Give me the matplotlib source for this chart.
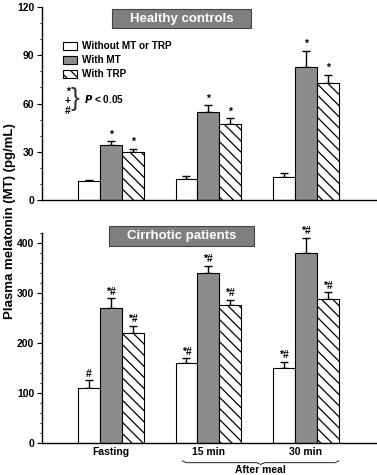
import matplotlib
matplotlib.use("Agg")
import matplotlib.pyplot as plt
import numpy as np
from matplotlib.patches import Patch, Rectangle
from matplotlib.ticker import MultipleLocator

plt.rcParams["font.family"] = ["Liberation Sans", "DejaVu Sans"]
plt.rcParams["font.weight"] = "bold"
plt.rcParams["hatch.linewidth"] = 0.9

groups = ["Fasting", "15 min", "30 min"]
series = ["Without MT or TRP", "With MT", "With TRP"]

# healthy controls (pg/mL), one list per series
healthy_none = [12, 13, 14]
healthy_none_err = [0.5, 2, 3]
healthy_mt = [34, 55, 83]
healthy_mt_err = [2.5, 4, 10]
healthy_trp = [30, 47, 73]
healthy_trp_err = [2, 4, 5]
healthy_marks = [["", "", ""], ["*", "*", "*"], ["*", "*", "*"]]

# cirrhotic patients (pg/mL)
cirr_none = [110, 160, 151]
cirr_none_err = [15, 10, 12]
cirr_mt = [270, 340, 381]
cirr_mt_err = [20, 15, 30]
cirr_trp = [220, 277, 289]
cirr_trp_err = [15, 10, 13]
cirr_marks = [["#", "*#", "*#"], ["*#", "*#", "*#"], ["*#", "*#", "*#"]]

styles = [
    dict(color="white", hatch=None),
    dict(color="#8c8c8c", hatch=None),
    dict(color="white", hatch="\\\\\\"),
]
width = 0.224


def draw_panel(ax, vals, errs, marks, ylim, major, minor, title, box):
    x = np.arange(len(groups))
    for i in range(3):
        pos = x + (i - 1) * width
        ax.bar(pos, vals[i], width, color=styles[i]["color"],
               hatch=styles[i]["hatch"], edgecolor="black", linewidth=0.8,
               zorder=2)
        ax.errorbar(pos, vals[i], yerr=[[0] * 3, errs[i]], fmt="none",
                    ecolor="black", elinewidth=1, capsize=3, capthick=1,
                    zorder=1)
        for j in range(3):
            if marks[i][j]:
                ax.annotate(marks[i][j], (pos[j], vals[i][j] + errs[i][j]),
                            xytext=(0, 1), textcoords="offset points",
                            ha="center", va="bottom", fontsize=7.5)
    ax.set_xlim(-0.704, 2.714)
    ax.set_ylim(*ylim)
    ax.yaxis.set_major_locator(MultipleLocator(major))
    ax.yaxis.set_minor_locator(MultipleLocator(minor))
    ax.tick_params(axis="y", which="major", length=3.5, width=0.8, labelsize=7.5, pad=2)
    ax.tick_params(axis="y", which="minor", length=1.5, width=0.6)
    ax.tick_params(axis="x", length=0)
    for s in ["top", "right"]:
        ax.spines[s].set_visible(False)
    for s in ["left", "bottom"]:
        ax.spines[s].set_linewidth(1.0)
    x0, x1, y0, y1 = box
    ax.add_patch(Rectangle((x0, y0), x1 - x0, y1 - y0, transform=ax.transAxes,
                           facecolor="#7f7f7f", edgecolor="#444444",
                           linewidth=0.8, clip_on=False, zorder=3))
    ax.text((x0 + x1) / 2, (y0 + y1) / 2, title, transform=ax.transAxes,
            ha="center", va="center", color="white", fontsize=9.5, zorder=4)


fig = plt.figure(figsize=(3.77, 4.75), dpi=100)
ax1 = fig.add_axes([0.1114, 0.579, 0.885, 0.406])
ax2 = fig.add_axes([0.1114, 0.0674, 0.885, 0.442])

draw_panel(ax1, [healthy_none, healthy_mt, healthy_trp],
           [healthy_none_err, healthy_mt_err, healthy_trp_err], healthy_marks,
           (0, 120), 30, 10, "Healthy controls", (0.209, 0.627, 0.891, 0.99))
draw_panel(ax2, [cirr_none, cirr_mt, cirr_trp],
           [cirr_none_err, cirr_mt_err, cirr_trp_err], cirr_marks,
           (0, 420), 100, 20, "Cirrhotic patients", (0.200, 0.636, 0.938, 1.033))

ax1.set_xticks([])
ax2.set_xticks(np.arange(len(groups)))
ax2.set_xticklabels(groups, fontsize=7.5)
ax2.tick_params(axis="x", pad=3)

# legend
handles = [Patch(facecolor=s["color"], hatch=s["hatch"], edgecolor="black",
                 linewidth=0.8) for s in styles]
ax1.legend(handles, series, loc="upper left", bbox_to_anchor=(0.063, 0.822),
           frameon=False, fontsize=7.2, handlelength=1.4, handleheight=0.9,
           handletextpad=0.5, labelspacing=0.4, borderpad=0, borderaxespad=0)

# significance key
for sym, yy in zip(["*", "+", "#"], [0.56, 0.515, 0.46]):
    ax1.text(0.078, yy, sym, transform=ax1.transAxes, ha="center",
             va="center", fontsize=7.5)
ax1.text(0.1, 0.525, "}", transform=ax1.transAxes, ha="center", va="center",
         fontsize=19, fontweight="light", color="#333333")
ax1.text(0.127, 0.525, "$\\mathbf{\\it{P}}$ < 0.05", transform=ax1.transAxes,
         ha="left", va="center", fontsize=7.2)

# after meal brace
bx0, bx1 = 0.735, 2.337
bm = (bx0 + bx1) / 2
trans = ax2.get_xaxis_transform()
ax2.plot([bx0, bx0 + 0.04, bm - 0.04, bm, bm + 0.04, bx1 - 0.04, bx1],
         [-0.085, -0.094, -0.094, -0.102, -0.094, -0.094, -0.085],
         transform=trans, color="black", linewidth=0.6, clip_on=False)
ax2.text(bm, -0.13, "After meal", transform=trans, ha="center", va="center",
         fontsize=7.5)

fig.text(0.027, 0.534, "Plasma melatonin (MT) (pg/mL)", rotation=90,
         ha="center", va="center", fontsize=9.5)

fig.savefig("out.png", dpi=100)
